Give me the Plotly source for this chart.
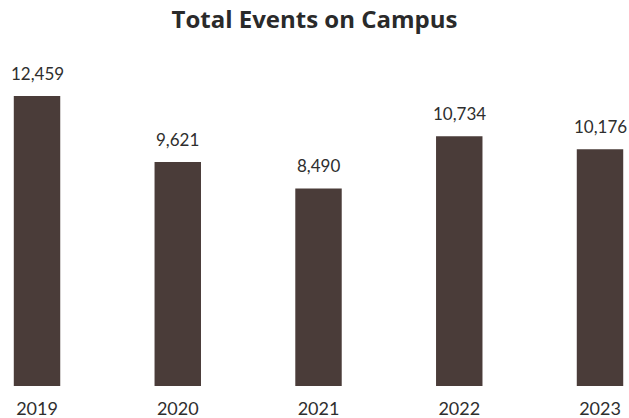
import plotly.graph_objects as go

years = ["2019", "2020", "2021", "2022", "2023"]
events = [12459, 9621, 8490, 10734, 10176]

fig = go.Figure(go.Bar(
    x=years, y=events,
    marker=dict(color="#4a3c39", line=dict(width=0)),
    width=0.33,
    cliponaxis=False,
))

for i, v in enumerate(events):
    fig.add_annotation(x=i, y=v, xref="x", yref="y", text=f"{v:,}", showarrow=False,
                       xanchor="center", yanchor="bottom", yshift=10,
                       font=dict(family="Lato", size=17, color="#2e2e2e"))

fig.update_layout(
    width=629, height=418,
    margin=dict(l=0, r=0, t=60, b=32),
    paper_bgcolor="white", plot_bgcolor="white",
    title=dict(text="<b>Total Events on Campus</b>", x=0.5, xanchor="center",
               y=0.952, yanchor="middle",
               font=dict(family="Open Sans", size=24, color="#2a2a2a")),
    xaxis=dict(type="category", range=[-0.263, 4.206], showline=False, showgrid=False,
               ticks="", ticklabelstandoff=10,
               tickfont=dict(family="Lato", size=18, color="#2e2e2e")),
    yaxis=dict(range=[0, 14006], showticklabels=False, showgrid=False,
               zeroline=False, showline=False, ticks=""),
    showlegend=False,
)

fig.write_html("out.html", config={"displayModeBar": False},
               post_script="document.body.style.margin='0';document.body.style.overflow='hidden';")
